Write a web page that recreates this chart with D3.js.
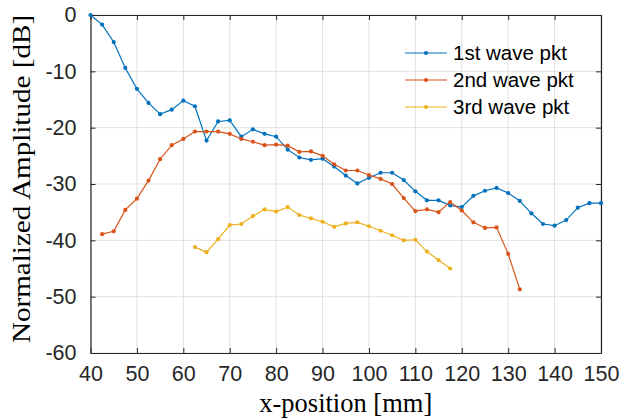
<!DOCTYPE html>
<html>
<head>
<meta charset="utf-8">
<script src="https://cdn.jsdelivr.net/npm/d3@7"></script>
<style>
  body { margin: 0; background: #fff; }
  svg { display: block; }
</style>
</head>
<body>
<div id="chart"></div>
<script>
// x positions go in 2.5 mm steps
const xFirst = [40, 42.5, 45, 47.5, 50, 52.5, 55, 57.5, 60, 62.5, 65, 67.5, 70, 72.5, 75, 77.5, 80, 82.5, 85, 87.5, 90, 92.5, 95, 97.5, 100, 102.5, 105, 107.5, 110, 112.5, 115, 117.5, 120, 122.5, 125, 127.5, 130, 132.5, 135, 137.5, 140, 142.5, 145, 147.5, 150];
const yFirst = [0, -1.7, -4.8, -9.4, -13.1, -15.6, -17.6, -16.8, -15.2, -16.2, -22.3, -18.9, -18.7, -21.6, -20.3, -21.1, -21.6, -23.9, -25.3, -25.7, -25.5, -26.9, -28.5, -29.9, -28.9, -28.0, -28.0, -29.3, -31.3, -32.9, -32.9, -33.8, -34.1, -32.1, -31.2, -30.7, -31.6, -33.0, -35.2, -37.1, -37.4, -36.4, -34.2, -33.4, -33.4];

const xSecond = [42.5, 45, 47.5, 50, 52.5, 55, 57.5, 60, 62.5, 65, 67.5, 70, 72.5, 75, 77.5, 80, 82.5, 85, 87.5, 90, 92.5, 95, 97.5, 100, 102.5, 105, 107.5, 110, 112.5, 115, 117.5, 120, 122.5, 125, 127.5, 130, 132.5];
const ySecond = [-38.9, -38.4, -34.6, -32.6, -29.4, -25.6, -23.1, -22.0, -20.7, -20.7, -20.7, -21.1, -22.0, -22.5, -23.1, -23.0, -23.2, -24.3, -24.2, -25.0, -26.5, -27.6, -27.6, -28.4, -29.1, -30.0, -32.5, -34.8, -34.5, -35.0, -33.2, -34.7, -36.8, -37.8, -37.7, -42.4, -48.7];

const xThird = [62.5, 65, 67.5, 70, 72.5, 75, 77.5, 80, 82.5, 85, 87.5, 90, 92.5, 95, 97.5, 100, 102.5, 105, 107.5, 110, 112.5, 115, 117.5];
const yThird = [-41.2, -42.1, -39.8, -37.3, -37.1, -35.7, -34.5, -34.9, -34.1, -35.5, -36.1, -36.7, -37.6, -37.0, -36.8, -37.5, -38.3, -39.1, -40.0, -39.9, -42.0, -43.5, -45.0];

const seriesNames = ['1st wave pkt', '2nd wave pkt', '3rd wave pkt'];
const xTicks = [40, 50, 60, 70, 80, 90, 100, 110, 120, 130, 140, 150];
const yTicks = [0, -10, -20, -30, -40, -50, -60];

const colors = ['#0072BD', '#D95319', '#EDB120'];
const series = [
  { name: seriesNames[0], x: xFirst, y: yFirst },
  { name: seriesNames[1], x: xSecond, y: ySecond },
  { name: seriesNames[2], x: xThird, y: yThird }
];

const W = 634, H = 419;
const margin = { top: 15, right: 33, bottom: 66, left: 90.5 };
const width = W - margin.left - margin.right;
const height = H - margin.top - margin.bottom;

const svg = d3.select('#chart').append('svg')
  .attr('width', W)
  .attr('height', H);

const g = svg.append('g')
  .attr('transform', `translate(${margin.left},${margin.top})`);

const x = d3.scaleLinear().domain([40, 150]).range([0, width]);
const y = d3.scaleLinear().domain([-60, 0]).range([height, 0]);

// grid
g.append('g')
  .selectAll('line')
  .data(xTicks)
  .enter().append('line')
  .attr('x1', d => x(d)).attr('x2', d => x(d))
  .attr('y1', 0).attr('y2', height)
  .attr('stroke', '#e0e0e0').attr('stroke-width', 1);

g.append('g')
  .selectAll('line')
  .data(yTicks)
  .enter().append('line')
  .attr('x1', 0).attr('x2', width)
  .attr('y1', d => y(d)).attr('y2', d => y(d))
  .attr('stroke', '#e0e0e0').attr('stroke-width', 1);

// axes, ticks pointing inwards like matlab
const axisColor = '#262626';
const tickFont = "'Liberation Sans', Arial, sans-serif";
const plain = d => String(d); // keep a normal hyphen, not the unicode minus

const xAxis = g.append('g')
  .attr('transform', `translate(0,${height})`)
  .call(d3.axisBottom(x).tickValues(xTicks).tickFormat(plain).tickSizeInner(-5).tickSizeOuter(0).tickPadding(13));

const yAxis = g.append('g')
  .call(d3.axisLeft(y).tickValues(yTicks).tickFormat(plain).tickSizeInner(-5).tickSizeOuter(0).tickPadding(14));

const xTop = g.append('g')
  .call(d3.axisTop(x).tickValues(xTicks).tickSizeInner(-5).tickSizeOuter(0).tickFormat(''));

const yRight = g.append('g')
  .attr('transform', `translate(${width},0)`)
  .call(d3.axisRight(y).tickValues(yTicks).tickSizeInner(-5).tickSizeOuter(0).tickFormat(''));

[xAxis, yAxis, xTop, yRight].forEach(a => {
  a.select('.domain').attr('stroke', axisColor).attr('stroke-width', 1.2);
  a.selectAll('.tick line').attr('stroke', axisColor);
  a.selectAll('.tick text')
    .attr('fill', '#262626')
    .style('font-family', tickFont)
    .style('font-size', '21.5px');
});
xAxis.selectAll('.tick text').attr('dy', '0.71em');

// lines
const line = d3.line()
  .x(d => x(d[0]))
  .y(d => y(d[1]));

series.forEach((s, i) => {
  const pts = s.x.map((xv, j) => [xv, s.y[j]]);
  g.append('path')
    .datum(pts)
    .attr('fill', 'none')
    .attr('stroke', colors[i])
    .attr('stroke-width', 1.2)
    .attr('d', line);
  g.append('g')
    .selectAll('circle')
    .data(pts)
    .enter().append('circle')
    .attr('cx', d => x(d[0]))
    .attr('cy', d => y(d[1]))
    .attr('r', 2.1)
    .attr('fill', colors[i]);
});

// legend
const legend = g.append('g')
  .attr('transform', `translate(${405 - margin.left},${53 - margin.top})`);

series.forEach((s, i) => {
  const row = legend.append('g').attr('transform', `translate(0,${i * 27})`);
  row.append('line')
    .attr('x1', 0).attr('x2', 42)
    .attr('y1', 0).attr('y2', 0)
    .attr('stroke', colors[i]).attr('stroke-width', 1.2);
  row.append('circle')
    .attr('cx', 21).attr('cy', 0).attr('r', 2.1)
    .attr('fill', colors[i]);
  row.append('text')
    .attr('x', 48).attr('y', 0)
    .attr('dy', '0.35em')
    .attr('fill', '#000')
    .style('font-family', tickFont)
    .style('font-size', '20.5px')
    .text(s.name);
});

// axis titles, a bit stretched like the source image
svg.append('text')
  .attr('transform', `translate(${margin.left + width / 2},412) scale(1.04,1.06)`)
  .attr('text-anchor', 'middle')
  .style('font-family', "'Liberation Serif', 'Times New Roman', serif")
  .style('font-size', '25.5px')
  .text('x-position [mm]');

svg.append('text')
  .attr('transform', `translate(30,${margin.top + height / 2 - 5}) rotate(-90) scale(1.12,1)`)
  .attr('text-anchor', 'middle')
  .style('font-family', "'Liberation Serif', 'Times New Roman', serif")
  .style('font-size', '26px')
  .text('Normalized Amplitude [dB]');
</script>
</body>
</html>
